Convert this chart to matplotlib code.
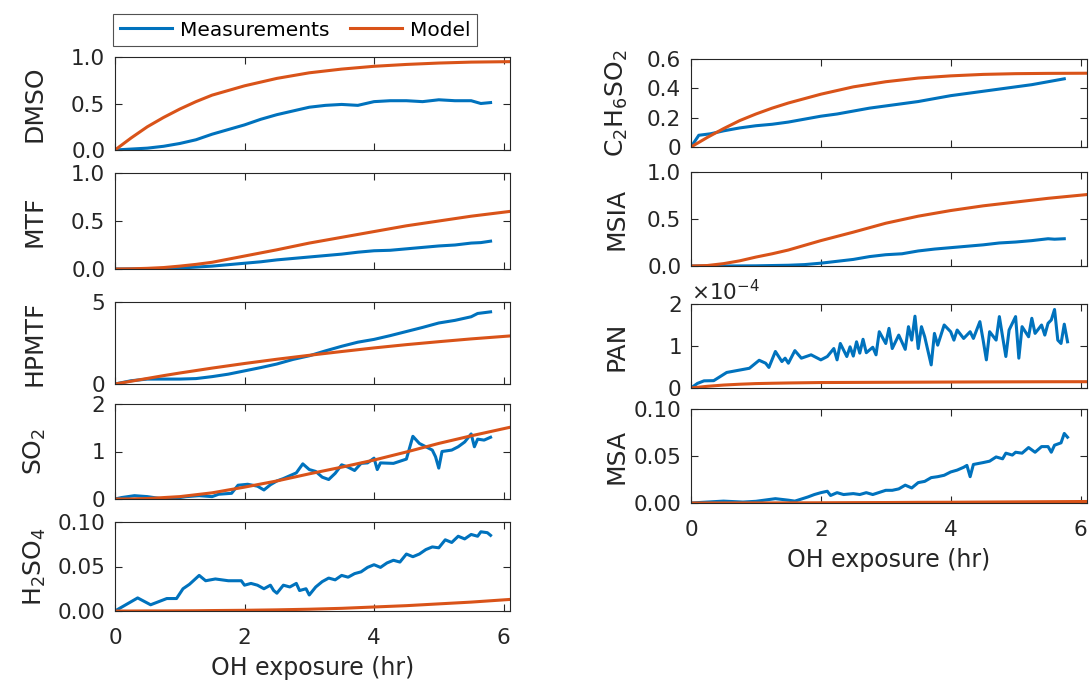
import numpy as np
import matplotlib
matplotlib.use('Agg')
import matplotlib.pyplot as plt
from matplotlib.ticker import ScalarFormatter, FormatStrFormatter

plt.rcParams['font.family'] = ['DejaVu Sans']
plt.rcParams['mathtext.default'] = 'regular'

blue = '#0072BD'
orange = '#D95319'

# model time grid (hr)
mod_t = [0, 0.25, 0.5, 0.75, 1, 1.25, 1.5, 2, 2.5, 3, 3.5, 4, 4.5, 5, 5.5, 6.1]

dmso_mod = [0, 0.13, 0.25, 0.35, 0.44, 0.52, 0.59, 0.69, 0.77, 0.83, 0.87, 0.90, 0.92, 0.935, 0.945, 0.95]
mtf_mod = [0, 0.002, 0.007, 0.015, 0.03, 0.048, 0.07, 0.135, 0.20, 0.27, 0.33, 0.39, 0.45, 0.50, 0.55, 0.60]
hpmtf_mod = [0, 0.17, 0.34, 0.51, 0.67, 0.82, 0.97, 1.25, 1.51, 1.75, 1.98, 2.2, 2.4, 2.58, 2.75, 2.93]
so2_mod = [0, 0.002, 0.01, 0.03, 0.05, 0.09, 0.13, 0.25, 0.38, 0.53, 0.67, 0.82, 0.99, 1.17, 1.33, 1.51]
h2so4_mod = [0, 0, 0.0001, 0.0001, 0.0002, 0.0003, 0.0005, 0.0008, 0.0013, 0.002, 0.003, 0.0045, 0.006, 0.008, 0.010, 0.013]
c2h6so2_mod = [0, 0.065, 0.125, 0.18, 0.225, 0.265, 0.30, 0.36, 0.41, 0.445, 0.47, 0.485, 0.495, 0.50, 0.502, 0.503]
msia_mod = [0, 0.005, 0.025, 0.055, 0.095, 0.13, 0.17, 0.27, 0.36, 0.455, 0.53, 0.59, 0.64, 0.68, 0.72, 0.76]
pan_mod = [0, 0.04, 0.07, 0.09, 0.105, 0.113, 0.12, 0.13, 0.133, 0.136, 0.139, 0.142, 0.145, 0.147, 0.149, 0.15]  # x1e-4
msa_mod = [0, 0, 0.00002, 0.00004, 0.00007, 0.0001, 0.00015, 0.00025, 0.0004, 0.0005, 0.0007, 0.0008, 0.001, 0.0012, 0.0014, 0.0016]

# measurements
dmso_t = [0, 0.25, 0.5, 0.75, 1.0, 1.25, 1.5, 1.75, 2.0, 2.25, 2.5, 2.75, 3.0, 3.25, 3.5, 3.75, 4.0, 4.25, 4.5, 4.75, 5.0, 5.25, 5.5, 5.65, 5.8]
dmso_meas = [0, 0.01, 0.02, 0.04, 0.07, 0.11, 0.17, 0.22, 0.27, 0.33, 0.38, 0.42, 0.46, 0.48, 0.49, 0.48, 0.52, 0.53, 0.53, 0.52, 0.54, 0.53, 0.53, 0.50, 0.51]

mtf_t = [0, 0.5, 1.0, 1.25, 1.5, 1.75, 2.0, 2.25, 2.5, 2.75, 3.0, 3.25, 3.5, 3.75, 4.0, 4.25, 4.5, 4.75, 5.0, 5.25, 5.5, 5.65, 5.8]
mtf_meas = [0, 0.002, 0.01, 0.02, 0.03, 0.045, 0.06, 0.075, 0.095, 0.11, 0.125, 0.14, 0.155, 0.175, 0.19, 0.195, 0.21, 0.225, 0.24, 0.25, 0.27, 0.275, 0.29]

hpmtf_t = [0, 0.25, 0.5, 0.75, 1.0, 1.25, 1.5, 1.75, 2.0, 2.25, 2.5, 2.75, 3.0, 3.25, 3.5, 3.75, 4.0, 4.25, 4.5, 4.75, 5.0, 5.25, 5.5, 5.6, 5.8]
hpmtf_meas = [0, 0.2, 0.3, 0.3, 0.3, 0.33, 0.45, 0.6, 0.8, 1.0, 1.22, 1.5, 1.72, 2.02, 2.3, 2.55, 2.72, 2.95, 3.2, 3.45, 3.72, 3.88, 4.1, 4.3, 4.4]

so2_t = [0, 0.1, 0.3, 0.5, 0.7, 0.9, 1.0, 1.1, 1.3, 1.5, 1.6, 1.8, 1.9, 2.05, 2.2, 2.3, 2.4, 2.5, 2.6, 2.8, 2.9, 3.0, 3.1, 3.2, 3.3,
         3.4, 3.5, 3.6, 3.7, 3.8, 3.9, 4.0, 4.05, 4.1, 4.3, 4.5, 4.6, 4.7, 4.8, 4.9, 4.95, 5.0, 5.05, 5.2, 5.3, 5.4, 5.5, 5.55, 5.6, 5.7, 5.8]
so2_meas = [0, 0.03, 0.07, 0.05, 0.01, 0.0, 0.03, 0.05, 0.07, 0.05, 0.10, 0.12, 0.29, 0.31, 0.27, 0.19, 0.3, 0.38, 0.43, 0.55, 0.74, 0.62, 0.58, 0.46, 0.41,
            0.54, 0.72, 0.67, 0.60, 0.75, 0.76, 0.86, 0.62, 0.76, 0.75, 0.84, 1.32, 1.17, 1.1, 1.03, 0.89, 0.65, 1.0, 1.03, 1.1, 1.2, 1.37, 1.1, 1.26, 1.24, 1.30]

h2so4_t = [0, 0.35, 0.55, 0.8, 0.95, 1.05, 1.15, 1.3, 1.4, 1.55, 1.75, 1.95, 2.0, 2.1, 2.2, 2.3, 2.4, 2.45, 2.5, 2.6, 2.7, 2.8, 2.85, 2.95, 3.0, 3.1, 3.2,
           3.3, 3.4, 3.5, 3.6, 3.7, 3.8, 3.9, 4.0, 4.1, 4.2, 4.3, 4.4, 4.5, 4.6, 4.7, 4.8, 4.9, 5.0, 5.1, 5.2, 5.3, 5.4, 5.5, 5.6, 5.65, 5.75, 5.8]
h2so4_meas = [0, 0.0147, 0.007, 0.014, 0.014, 0.025, 0.030, 0.040, 0.034, 0.036, 0.034, 0.034, 0.029, 0.031, 0.029, 0.025, 0.029, 0.023, 0.020, 0.029,
              0.027, 0.031, 0.023, 0.025, 0.018, 0.027, 0.033, 0.037, 0.035, 0.040, 0.038, 0.042, 0.044, 0.049, 0.052, 0.049, 0.054, 0.057, 0.055,
              0.064, 0.061, 0.064, 0.069, 0.072, 0.071, 0.080, 0.077, 0.084, 0.081, 0.086, 0.084, 0.089, 0.088, 0.085]

c2h6so2_t = [0, 0.12, 0.3, 0.5, 0.75, 1.0, 1.25, 1.5, 1.75, 2.0, 2.25, 2.5, 2.75, 3.0, 3.25, 3.5, 3.75, 4.0, 4.25, 4.5, 4.75, 5.0, 5.25, 5.5, 5.75]
c2h6so2_meas = [0, 0.08, 0.09, 0.11, 0.13, 0.145, 0.155, 0.17, 0.19, 0.21, 0.225, 0.245, 0.265, 0.28, 0.295, 0.31, 0.33, 0.35, 0.365, 0.38, 0.395, 0.41, 0.425, 0.445, 0.465]

msia_t = [0, 0.5, 1.0, 1.5, 1.75, 2.0, 2.25, 2.5, 2.75, 3.0, 3.25, 3.5, 3.75, 4.0, 4.25, 4.5, 4.75, 5.0, 5.25, 5.5, 5.6, 5.75]
msia_meas = [0, 0, 0.002, 0.008, 0.015, 0.03, 0.05, 0.07, 0.10, 0.12, 0.13, 0.16, 0.18, 0.195, 0.21, 0.225, 0.245, 0.255, 0.27, 0.29, 0.285, 0.29]

pan_t = [0, 0.1, 0.2, 0.35, 0.55, 0.9, 1.05, 1.15, 1.2, 1.3, 1.4, 1.45, 1.5, 1.6, 1.7, 1.85, 2.0, 2.1, 2.2, 2.25, 2.3, 2.4, 2.45, 2.5, 2.55,
         2.6, 2.65, 2.7, 2.8, 2.85, 2.9, 3.0, 3.05, 3.1, 3.2, 3.3, 3.35, 3.4, 3.45, 3.5, 3.55, 3.6, 3.7, 3.75, 3.8, 3.9, 4.0, 4.05, 4.1, 4.2,
         4.3, 4.35, 4.45, 4.5, 4.55, 4.6, 4.7, 4.75, 4.8, 4.85, 4.9, 5.0, 5.05, 5.1, 5.2, 5.25, 5.3, 5.4, 5.45, 5.5, 5.55, 5.6, 5.65, 5.7, 5.75, 5.8]
pan_meas = [0, 0.11, 0.17, 0.175, 0.37, 0.47, 0.66, 0.59, 0.49, 0.87, 0.63, 0.71, 0.59, 0.89, 0.71, 0.79, 0.67, 0.75, 0.94, 0.67, 1.06, 0.75, 0.98, 0.76, 1.10,
            0.83, 1.16, 0.84, 0.97, 0.79, 1.34, 1.06, 1.42, 0.94, 1.26, 0.92, 1.46, 1.14, 1.71, 0.94, 1.46, 1.22, 0.55, 1.30, 1.02, 1.50, 1.34, 1.14, 1.38, 1.18,
            1.34, 1.18, 1.58, 1.14, 0.67, 1.34, 1.14, 1.70, 1.22, 0.75, 1.38, 1.70, 0.71, 1.46, 1.22, 1.66, 1.30, 1.50, 1.26, 1.54, 1.62, 1.87, 1.14, 1.06, 1.52, 1.10]  # x1e-4

msa_t = [0, 0.5, 0.8, 1.0, 1.3, 1.5, 1.6, 1.8, 1.9, 2.0, 2.1, 2.15, 2.25, 2.35, 2.5, 2.6, 2.7, 2.8, 3.0, 3.1, 3.2, 3.3, 3.4, 3.5, 3.6,
         3.7, 3.8, 3.9, 4.0, 4.1, 4.2, 4.25, 4.3, 4.35, 4.5, 4.6, 4.7, 4.8, 4.85, 4.95, 5.0, 5.1, 5.2, 5.3, 5.4, 5.5, 5.55, 5.6, 5.7, 5.75, 5.8]
msa_meas = [0, 0.002, 0.001, 0.0018, 0.0046, 0.003, 0.002, 0.0064, 0.009, 0.011, 0.0125, 0.008, 0.011, 0.009, 0.010, 0.009, 0.011, 0.009, 0.0135, 0.0135,
            0.015, 0.019, 0.016, 0.0217, 0.023, 0.027, 0.028, 0.0295, 0.033, 0.035, 0.038, 0.040, 0.028, 0.041, 0.043, 0.0445, 0.049, 0.047, 0.053, 0.051,
            0.054, 0.053, 0.059, 0.054, 0.060, 0.060, 0.054, 0.0615, 0.064, 0.074, 0.070]

W, H = 1090, 685
fig = plt.figure(figsize=(W / 100, H / 100), dpi=100)

def make_ax(x0, x1, top, bot):
    ax = fig.add_axes([x0 / W, 1 - bot / H, (x1 - x0) / W, (bot - top) / H])
    ax.set_xlim(0, 6.1)
    ax.set_xticks([0, 2, 4, 6])
    ax.tick_params(direction='in', top=True, right=True, length=5, width=0.8,
                   labelsize=15.5, colors='#262626', pad=7)
    ax.tick_params(axis='x', pad=12)
    for s in ax.spines.values():
        s.set_color('#262626')
        s.set_linewidth(0.8)
    return ax

def draw(ax, t, meas, mt, mod, ylabel, ylim, yticks, fmt, lx, last=False, scale=1.0):
    ax.plot(np.array(t), np.array(meas) * scale, color=blue, lw=2.2, label='Measurements')
    ax.plot(np.array(mt), np.array(mod) * scale, color=orange, lw=2.2, label='Model')
    ax.set_ylim(*ylim)
    ax.set_yticks(yticks)
    if fmt is not None:
        ax.yaxis.set_major_formatter(FormatStrFormatter(fmt))
    ax.set_ylabel(ylabel, fontsize=18, color='#262626')
    ax.yaxis.set_label_coords(lx, 0.5)
    ax.yaxis.label.set_verticalalignment('baseline')
    if last:
        ax.set_xlabel('OH exposure (hr)', fontsize=17, color='#262626', labelpad=6)
    else:
        ax.tick_params(labelbottom=False)

# left column
LX0, LX1 = 115, 510
lx_left = -0.185
ax1 = make_ax(LX0, LX1, 57, 150)
draw(ax1, dmso_t, dmso_meas, mod_t, dmso_mod, 'DMSO', (0, 1), [0, 0.5, 1], '%.1f', lx_left)
ax2 = make_ax(LX0, LX1, 173, 269)
draw(ax2, mtf_t, mtf_meas, mod_t, mtf_mod, 'MTF', (0, 1), [0, 0.5, 1], '%.1f', lx_left)
ax3 = make_ax(LX0, LX1, 302, 384)
draw(ax3, hpmtf_t, hpmtf_meas, mod_t, hpmtf_mod, 'HPMTF', (0, 5), [0, 5], '%d', lx_left)
ax4 = make_ax(LX0, LX1, 404, 499)
draw(ax4, so2_t, so2_meas, mod_t, so2_mod, 'SO$_2$', (0, 2), [0, 1, 2], '%d', lx_left)
ax5 = make_ax(LX0, LX1, 522, 611)
draw(ax5, h2so4_t, h2so4_meas, mod_t, h2so4_mod, 'H$_2$SO$_4$', (0, 0.1), [0, 0.05, 0.1], '%.2f', lx_left, last=True)

# right column
RX0, RX1 = 691, 1087
lx_right = -0.17
ax6 = make_ax(RX0, RX1, 59, 147)
draw(ax6, c2h6so2_t, c2h6so2_meas, mod_t, c2h6so2_mod, 'C$_2$H$_6$SO$_2$', (0, 0.6), [0, 0.2, 0.4, 0.6], None, lx_right)
ax6.set_yticklabels(['0', '0.2', '0.4', '0.6'])
ax7 = make_ax(RX0, RX1, 172, 266)
draw(ax7, msia_t, msia_meas, mod_t, msia_mod, 'MSIA', (0, 1), [0, 0.5, 1], '%.1f', lx_right)
ax8 = make_ax(RX0, RX1, 304, 388)
draw(ax8, pan_t, pan_meas, mod_t, pan_mod, 'PAN', (0, 2e-4), [0, 1e-4, 2e-4], None, lx_right, scale=1e-4)
sf = ScalarFormatter(useMathText=True)
sf.set_powerlimits((-3, 3))
ax8.yaxis.set_major_formatter(sf)
ax8.yaxis.get_offset_text().set_fontsize(15.5)
ax8.yaxis.get_offset_text().set_color('#262626')
ax9 = make_ax(RX0, RX1, 409, 503)
draw(ax9, msa_t, msa_meas, mod_t, msa_mod, 'MSA', (0, 0.1), [0, 0.05, 0.1], '%.2f', lx_right, last=True)

h, l = ax1.get_legend_handles_labels()
leg = fig.legend(h, l, loc='center', bbox_to_anchor=(295 / W, 1 - 30 / H), ncol=2,
                 fontsize=14.5, frameon=True, fancybox=False, handlelength=2.6,
                 columnspacing=1.0, handletextpad=0.4, borderpad=0.3, borderaxespad=0)
leg.get_frame().set_edgecolor('#262626')
leg.get_frame().set_linewidth(0.8)

fig.savefig('out.png', dpi=100)
